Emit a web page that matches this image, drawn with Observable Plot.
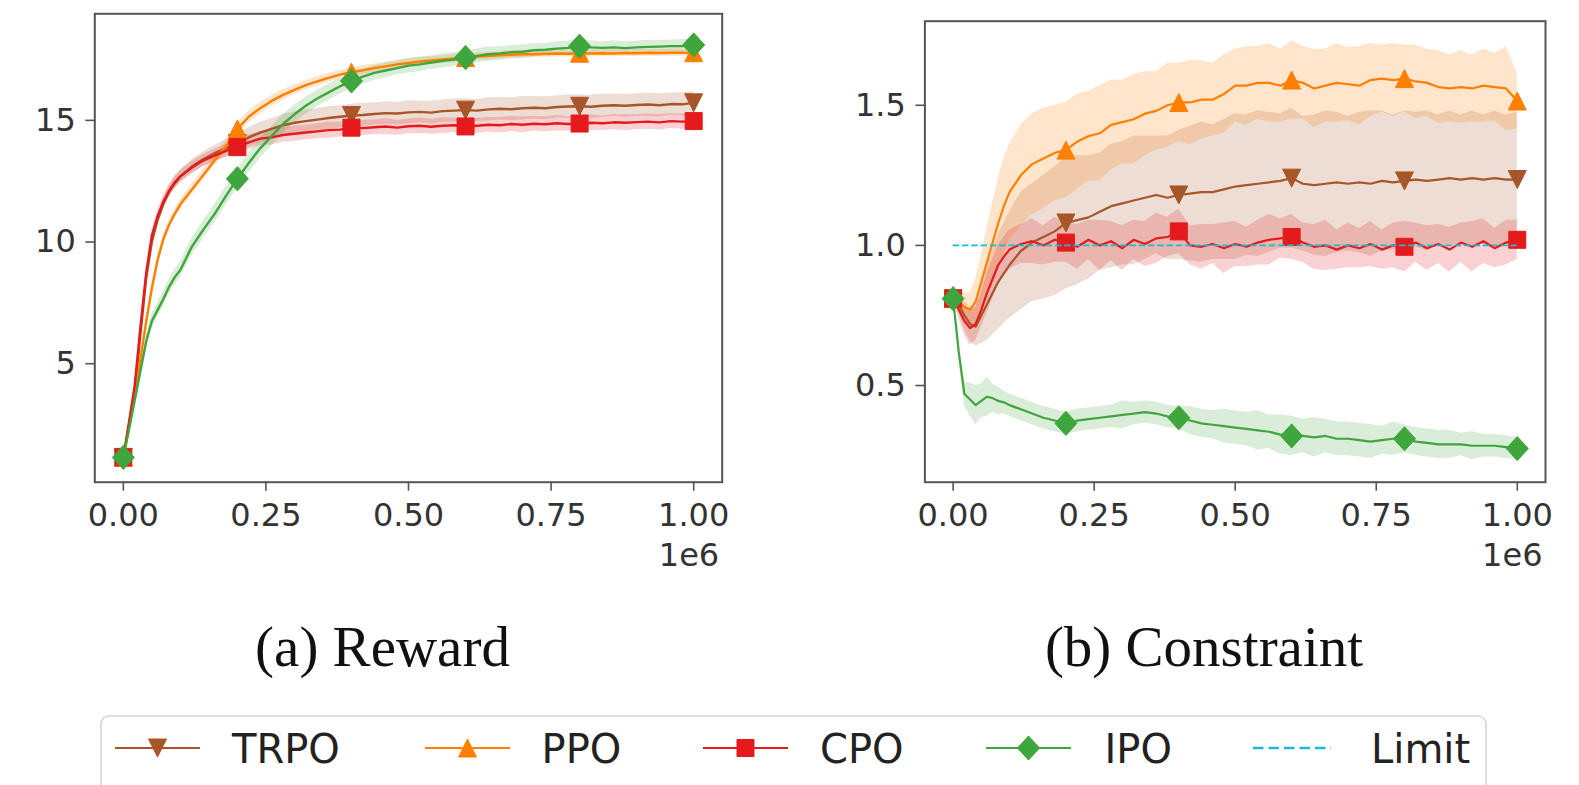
<!DOCTYPE html>
<html>
<head>
<meta charset="utf-8">
<script src="https://cdn.jsdelivr.net/npm/d3@7"></script>
<script src="https://cdn.jsdelivr.net/npm/@observablehq/plot@0.6"></script>
<style>
  html, body { margin: 0; padding: 0; background: #fff; overflow: hidden; }
  #page { position: relative; width: 1579px; height: 785px; overflow: hidden; background: #fff; }
  .panel { position: absolute; top: 0; }
  .panel svg g[aria-label="x-axis tick"], .panel svg g[aria-label="y-axis tick"],
  .panel svg g[aria-label="x-axis"] line, .panel svg g[aria-label="y-axis"] line { stroke-width: 1.6px; stroke: #555; }
  #overlay { position: absolute; left: 0; top: 0; pointer-events: none; }
</style>
</head>
<body>
<div id="page">
  <div id="reward" class="panel" style="left:0px"></div>
  <div id="constraint" class="panel" style="left:790px"></div>
</div>
<script>
// Training steps (in units of 1e6 environment steps)
const steps = [0, 0.01, 0.02, 0.03, 0.04, 0.05, 0.06, 0.07, 0.08, 0.09, 0.10,
  0.12, 0.14, 0.16, 0.18, 0.20, 0.22, 0.24, 0.26, 0.28, 0.30, 0.32, 0.34, 0.36, 0.38, 0.40,
  0.42, 0.44, 0.46, 0.48, 0.50, 0.52, 0.54, 0.56, 0.58, 0.60, 0.62, 0.64, 0.66, 0.68, 0.70,
  0.72, 0.74, 0.76, 0.78, 0.80, 0.82, 0.84, 0.86, 0.88, 0.90, 0.92, 0.94, 0.96, 0.98, 1.00];
const markerSteps = [0, 0.2, 0.4, 0.6, 0.8, 1.0];
const xTicks = [0, 0.25, 0.5, 0.75, 1.0];

const seriesNames = ["TRPO", "PPO", "CPO", "IPO"];
const seriesColors = ["#a65628", "#ff7f00", "#e41a1c", "#3fa63d"];

// (a) Reward: mean return per method
const rewardTRPO = [1.15, 2.5, 3.9, 6.2, 8.5, 10.0, 10.9, 11.55, 12.05, 12.4, 12.7,
  13.1, 13.4, 13.65, 13.85, 14.05, 14.3, 14.5, 14.65, 14.8, 14.9, 14.97, 15.03, 15.1, 15.15, 15.2,
  15.22, 15.26, 15.3, 15.28, 15.33, 15.35, 15.32, 15.38, 15.4, 15.42, 15.4, 15.45, 15.48, 15.46, 15.5,
  15.52, 15.5, 15.55, 15.57, 15.58, 15.56, 15.6, 15.62, 15.6, 15.63, 15.65, 15.62, 15.67, 15.66, 15.72];
const rewardPPO = [1.15, 2.4, 3.7, 5.2, 6.7, 8.1, 9.25, 10.1, 10.7, 11.15, 11.55,
  12.15, 12.75, 13.35, 13.95, 14.65, 15.15, 15.5, 15.8, 16.05, 16.25, 16.45, 16.6, 16.75, 16.88, 16.98,
  17.06, 17.15, 17.22, 17.3, 17.36, 17.42, 17.46, 17.5, 17.55, 17.58, 17.62, 17.64, 17.67, 17.7, 17.72,
  17.72, 17.74, 17.75, 17.74, 17.76, 17.75, 17.76, 17.75, 17.77, 17.76, 17.78, 17.77, 17.78, 17.78, 17.78];
const rewardCPO = [1.15, 2.6, 4.1, 6.5, 8.7, 10.25, 11.05, 11.65, 12.1, 12.45, 12.7,
  13.05, 13.35, 13.55, 13.75, 13.9, 14.1, 14.25, 14.3, 14.4, 14.45, 14.5, 14.55, 14.6, 14.62, 14.7,
  14.68, 14.72, 14.75, 14.7, 14.76, 14.78, 14.74, 14.78, 14.8, 14.75, 14.78, 14.82, 14.8, 14.85, 14.82,
  14.86, 14.84, 14.88, 14.85, 14.87, 14.9, 14.88, 14.92, 14.9, 14.93, 14.95, 14.92, 14.97, 14.95, 14.97];
const rewardIPO = [1.15, 2.3, 3.5, 4.7, 5.9, 6.75, 7.2, 7.65, 8.15, 8.55, 8.85,
  9.8, 10.5, 11.15, 11.9, 12.6, 13.25, 13.85, 14.35, 14.85, 15.25, 15.6, 15.9, 16.15, 16.4, 16.62,
  16.8, 16.95, 17.05, 17.15, 17.25, 17.3, 17.38, 17.45, 17.5, 17.58, 17.65, 17.72, 17.75, 17.8, 17.82,
  17.88, 17.9, 17.95, 17.98, 18.05, 18.0, 17.98, 18.0, 17.97, 18.0, 18.02, 18.03, 18.05, 18.05, 18.1];

// (a) Reward: spread (std) around each mean
const rewardSpreadTRPO = [0, 0.1, 0.15, 0.2, 0.2, 0.2, 0.2, 0.22, 0.22, 0.25, 0.25,
  0.28, 0.3, 0.32, 0.35, 0.38, 0.4, 0.42, 0.42, 0.45, 0.44, 0.46, 0.45, 0.47, 0.45, 0.46,
  0.48, 0.45, 0.47, 0.46, 0.48, 0.45, 0.47, 0.46, 0.48, 0.47, 0.45, 0.48, 0.46, 0.47, 0.48,
  0.46, 0.47, 0.45, 0.48, 0.46, 0.47, 0.48, 0.45, 0.47, 0.46, 0.48, 0.47, 0.46, 0.48, 0.47];
const rewardSpreadPPO = [0, 0.1, 0.15, 0.2, 0.2, 0.2, 0.2, 0.2, 0.2, 0.2, 0.2,
  0.22, 0.22, 0.22, 0.24, 0.24, 0.25, 0.24, 0.22, 0.22, 0.2, 0.2, 0.2, 0.19, 0.18, 0.18,
  0.18, 0.17, 0.18, 0.17, 0.16, 0.17, 0.16, 0.16, 0.17, 0.16, 0.15, 0.16, 0.15, 0.16, 0.15,
  0.15, 0.16, 0.15, 0.14, 0.15, 0.15, 0.14, 0.15, 0.14, 0.15, 0.14, 0.14, 0.15, 0.14, 0.14];
const rewardSpreadCPO = [0, 0.1, 0.15, 0.2, 0.25, 0.25, 0.25, 0.25, 0.25, 0.25, 0.25,
  0.25, 0.25, 0.26, 0.27, 0.28, 0.3, 0.3, 0.31, 0.3, 0.32, 0.3, 0.31, 0.33, 0.3, 0.32,
  0.31, 0.3, 0.33, 0.31, 0.3, 0.32, 0.31, 0.33, 0.3, 0.32, 0.31, 0.3, 0.32, 0.31, 0.33,
  0.3, 0.31, 0.32, 0.3, 0.31, 0.32, 0.3, 0.31, 0.33, 0.3, 0.31, 0.32, 0.3, 0.31, 0.3];
const rewardSpreadIPO = [0, 0.1, 0.15, 0.2, 0.25, 0.3, 0.3, 0.32, 0.3, 0.33, 0.32,
  0.35, 0.36, 0.38, 0.38, 0.4, 0.4, 0.42, 0.4, 0.38, 0.36, 0.35, 0.34, 0.33, 0.32, 0.3,
  0.3, 0.31, 0.3, 0.28, 0.3, 0.29, 0.28, 0.3, 0.28, 0.27, 0.28, 0.3, 0.28, 0.27, 0.28,
  0.27, 0.26, 0.28, 0.27, 0.3, 0.26, 0.25, 0.27, 0.26, 0.25, 0.27, 0.26, 0.25, 0.26, 0.25];

// (b) Constraint: mean cost per method
const costTRPO = [0.81, 0.79, 0.75, 0.72, 0.71, 0.75, 0.79, 0.83, 0.87, 0.90, 0.93,
  0.98, 1.01, 1.03, 1.05, 1.08, 1.09, 1.10, 1.12, 1.14, 1.15, 1.16, 1.17, 1.18, 1.17, 1.18,
  1.185, 1.19, 1.19, 1.20, 1.21, 1.215, 1.22, 1.225, 1.23, 1.24, 1.22, 1.215, 1.22, 1.225, 1.22,
  1.225, 1.22, 1.23, 1.225, 1.23, 1.235, 1.23, 1.235, 1.24, 1.235, 1.24, 1.235, 1.24, 1.235, 1.235];
const costPPO = [0.81, 0.80, 0.78, 0.77, 0.80, 0.87, 0.94, 1.01, 1.08, 1.14, 1.19,
  1.25, 1.29, 1.31, 1.33, 1.34, 1.37, 1.39, 1.40, 1.43, 1.44, 1.45, 1.47, 1.48, 1.50, 1.51,
  1.51, 1.52, 1.52, 1.54, 1.57, 1.57, 1.58, 1.58, 1.57, 1.59, 1.58, 1.56, 1.57, 1.58, 1.575,
  1.57, 1.59, 1.595, 1.59, 1.595, 1.585, 1.58, 1.565, 1.56, 1.565, 1.56, 1.57, 1.565, 1.56, 1.515];
const costCPO = [0.81, 0.77, 0.73, 0.705, 0.72, 0.77, 0.83, 0.88, 0.93, 0.96, 0.985,
  1.005, 1.015, 1.0, 1.02, 1.01, 0.995, 1.02, 1.0, 1.015, 0.99, 1.02, 1.005, 1.025, 1.03, 1.05,
  1.0, 0.995, 1.005, 0.99, 1.005, 0.995, 1.01, 1.02, 1.025, 1.03, 1.01, 0.995, 1.0, 0.985, 1.0,
  0.99, 1.005, 0.985, 1.0, 0.995, 1.01, 0.99, 1.005, 0.985, 1.01, 0.995, 1.015, 0.99, 1.01, 1.02];
const costIPO = [0.81, 0.62, 0.47, 0.45, 0.43, 0.445, 0.46, 0.455, 0.445, 0.44, 0.43,
  0.415, 0.40, 0.385, 0.375, 0.365, 0.375, 0.38, 0.385, 0.39, 0.395, 0.40, 0.405, 0.40, 0.39, 0.385,
  0.375, 0.365, 0.36, 0.355, 0.35, 0.345, 0.34, 0.335, 0.325, 0.32, 0.32, 0.315, 0.32, 0.31, 0.31,
  0.305, 0.30, 0.305, 0.31, 0.31, 0.30, 0.295, 0.29, 0.29, 0.29, 0.285, 0.285, 0.285, 0.28, 0.275];

// (b) Constraint: spread (std) around each mean
const costSpreadTRPO = [0, 0.03, 0.05, 0.06, 0.07, 0.1, 0.13, 0.15, 0.17, 0.18, 0.19,
  0.21, 0.21, 0.22, 0.23, 0.235, 0.23, 0.22, 0.21, 0.22, 0.22, 0.23, 0.22, 0.21, 0.22, 0.23,
  0.24, 0.25, 0.24, 0.25, 0.26, 0.25, 0.26, 0.25, 0.24, 0.25, 0.24, 0.25, 0.26, 0.25, 0.24,
  0.25, 0.26, 0.25, 0.24, 0.25, 0.24, 0.25, 0.23, 0.24, 0.23, 0.24, 0.23, 0.24, 0.23, 0.24];
const costSpreadPPO = [0, 0.03, 0.05, 0.06, 0.08, 0.1, 0.12, 0.14, 0.16, 0.17, 0.17,
  0.18, 0.18, 0.18, 0.17, 0.17, 0.17, 0.16, 0.17, 0.16, 0.15, 0.16, 0.15, 0.14, 0.15, 0.14,
  0.15, 0.14, 0.13, 0.14, 0.13, 0.14, 0.13, 0.14, 0.13, 0.14, 0.13, 0.14, 0.13, 0.14, 0.13,
  0.14, 0.13, 0.12, 0.13, 0.12, 0.13, 0.12, 0.13, 0.12, 0.13, 0.12, 0.13, 0.12, 0.15, 0.1];
const costSpreadCPO = [0, 0.03, 0.05, 0.06, 0.06, 0.06, 0.07, 0.07, 0.07, 0.07, 0.07,
  0.07, 0.08, 0.07, 0.08, 0.07, 0.08, 0.07, 0.09, 0.07, 0.08, 0.07, 0.08, 0.09, 0.07, 0.08,
  0.07, 0.08, 0.07, 0.09, 0.08, 0.07, 0.08, 0.09, 0.07, 0.08, 0.07, 0.08, 0.09, 0.07, 0.08,
  0.07, 0.08, 0.07, 0.08, 0.09, 0.07, 0.08, 0.07, 0.08, 0.07, 0.09, 0.08, 0.07, 0.08, 0.07];
const costSpreadIPO = [0, 0.03, 0.04, 0.06, 0.07, 0.06, 0.07, 0.05, 0.05, 0.04, 0.04,
  0.04, 0.04, 0.04, 0.04, 0.04, 0.04, 0.04, 0.04, 0.04, 0.05, 0.04, 0.04, 0.04, 0.04, 0.04,
  0.05, 0.05, 0.05, 0.06, 0.06, 0.06, 0.07, 0.06, 0.07, 0.07, 0.06, 0.07, 0.06, 0.06, 0.06,
  0.06, 0.06, 0.05, 0.06, 0.05, 0.05, 0.05, 0.05, 0.05, 0.04, 0.05, 0.04, 0.04, 0.04, 0.04];

const costLimit = 1.0;
const limitColor = "#17becf";

// Marker shapes (size arrives as pi*r^2 from Plot.dot)
const rOf = size => Math.sqrt(size / Math.PI);
const triangleDown = {draw(c, size) { const r = rOf(size); c.moveTo(-r, -r); c.lineTo(r, -r); c.lineTo(0, r); c.closePath(); }};
const triangleUp = {draw(c, size) { const r = rOf(size); c.moveTo(0, -r); c.lineTo(r, r); c.lineTo(-r, r); c.closePath(); }};
const squareMark = {draw(c, size) { const r = rOf(size); c.moveTo(-r, -r); c.lineTo(r, -r); c.lineTo(r, r); c.lineTo(-r, r); c.closePath(); }};
const diamondMark = {draw(c, size) { const r = rOf(size); c.moveTo(0, -r * 1.1); c.lineTo(r, 0); c.lineTo(0, r * 1.1); c.lineTo(-r, 0); c.closePath(); }};
const seriesSymbols = [triangleDown, triangleUp, squareMark, diamondMark];
const seriesRadius = [9, 9, 8.5, 11];

function buildRows(means, spreads) {
  return seriesNames.map((name, k) => steps.map((x, i) => ({
    name, x, y: means[k][i], lo: means[k][i] - spreads[k][i], hi: means[k][i] + spreads[k][i]
  })));
}

function panel({series, yDomain, yTicks, yFormat, width, height, marginLeft, marginRight, marginTop, marginBottom, lineWidth, limit}) {
  const bands = series.map((rows, k) => Plot.areaY(rows, {x: "x", y1: "lo", y2: "hi", fill: seriesColors[k], fillOpacity: 0.2}));
  const lines = series.flatMap((rows, k) => [
    Plot.lineY(rows, {x: "x", y: "y", stroke: seriesColors[k], strokeWidth: lineWidth}),
    Plot.dot(rows.filter(d => markerSteps.includes(d.x)), {x: "x", y: "y", symbol: seriesSymbols[k], r: seriesRadius[k], fill: seriesColors[k], stroke: seriesColors[k], strokeWidth: 1})
  ]);
  const extra = limit == null ? [] : [Plot.ruleY([limit], {x1: steps[0], x2: steps[steps.length - 1], stroke: limitColor, strokeWidth: 1.8, strokeDasharray: "6.5,2.8"})];
  return Plot.plot({
    width, height, marginLeft, marginRight, marginTop, marginBottom,
    style: {fontFamily: "'DejaVu Sans', sans-serif", fontSize: "32px", color: "#333", background: "transparent", overflow: "visible"},
    x: {domain: [-0.05, 1.05], ticks: xTicks, tickFormat: d3.format(".2f"), tickSize: 9, tickPadding: 12, label: null},
    y: {domain: yDomain, ticks: yTicks, tickFormat: yFormat, tickSize: 9, tickPadding: 10, label: null},
    marks: [
      ...bands,
      ...lines,
      ...extra,
      Plot.frame({stroke: "#555", strokeWidth: 2}),
      Plot.text(["1e6"], {text: d => d, frameAnchor: "bottom-right", dx: -3, dy: 84, textAnchor: "end", fontSize: 32, fill: "#333"})
    ]
  });
}

const rewardSeries = buildRows([rewardTRPO, rewardPPO, rewardCPO, rewardIPO],
  [rewardSpreadTRPO, rewardSpreadPPO, rewardSpreadCPO, rewardSpreadIPO]);
const costSeries = buildRows([costTRPO, costPPO, costCPO, costIPO],
  [costSpreadTRPO, costSpreadPPO, costSpreadCPO, costSpreadIPO]);

document.getElementById("reward").append(panel({
  series: rewardSeries, yDomain: [0.13, 19.38], yTicks: [5, 10, 15], yFormat: d3.format("d"),
  width: 760, height: 600, marginLeft: 94.3, marginRight: 38.3, marginTop: 13.3, marginBottom: 118.3,
  lineWidth: 2.4, limit: null
}));
document.getElementById("constraint").append(panel({
  series: costSeries, yDomain: [0.155, 1.80], yTicks: [0.5, 1.0, 1.5], yFormat: d3.format(".1f"),
  width: 789, height: 600, marginLeft: 134.4, marginRight: 34, marginTop: 20.7, marginBottom: 118.3,
  lineWidth: 2.2, limit: costLimit
}));

// Sub-figure captions and the shared legend
const overlay = d3.create("svg").attr("id", "overlay").attr("width", 1579).attr("height", 785);
const captions = [["(a) Reward", 382.5], ["(b) Constraint", 1204]];
for (const [label, cx] of captions) {
  overlay.append("text").attr("x", cx).attr("y", 666).attr("text-anchor", "middle")
    .attr("font-family", "'Liberation Serif', 'Times New Roman', serif").attr("font-size", 57)
    .attr("fill", "#111").text(label);
}
overlay.append("rect").attr("x", 101).attr("y", 716).attr("width", 1385).attr("height", 120)
  .attr("rx", 8).attr("fill", "#fff").attr("stroke", "#d4d4d4").attr("stroke-width", 1.5);

const legendNames = [...seriesNames, "Limit"];
const legendLineX = [115, 425, 703, 986, 1253];
const legendTextX = [232, 541.6, 820, 1104.5, 1371];
const legendY = 748;
legendNames.forEach((name, k) => {
  const x0 = legendLineX[k];
  if (k < seriesNames.length) {
    overlay.append("line").attr("x1", x0).attr("x2", x0 + 85).attr("y1", legendY).attr("y2", legendY)
      .attr("stroke", seriesColors[k]).attr("stroke-width", 2.2);
    overlay.append("path").attr("transform", `translate(${x0 + 42.5},${legendY})`)
      .attr("d", d3.symbol(seriesSymbols[k], Math.PI * seriesRadius[k] ** 2)())
      .attr("fill", seriesColors[k]).attr("stroke", seriesColors[k]);
  } else {
    overlay.append("line").attr("x1", x0).attr("x2", x0 + 78).attr("y1", legendY).attr("y2", legendY)
      .attr("stroke", limitColor).attr("stroke-width", 2.4).attr("stroke-dasharray", "10.5,5");
  }
  overlay.append("text").attr("x", legendTextX[k]).attr("y", legendY + 14.6)
    .attr("font-family", "'DejaVu Sans', sans-serif").attr("font-size", 40).attr("fill", "#222").text(name);
});
document.getElementById("page").append(overlay.node());
</script>
</body>
</html>
